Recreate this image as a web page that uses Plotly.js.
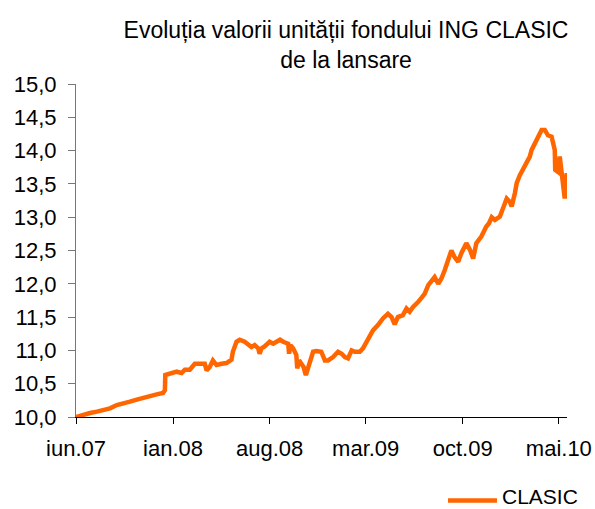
<!DOCTYPE html>
<html>
<head>
<meta charset="utf-8">
<script src="https://cdn.plot.ly/plotly-3.0.1.min.js"></script>
<style>html,body{margin:0;padding:0;background:#fff;}</style>
</head>
<body>
<div id="chart" style="width:595px;height:509px;"></div>
<script>
const dates = [
  "2007-06-01","2007-06-17","2007-07-02","2007-07-17","2007-07-31","2007-08-15","2007-08-30",
  "2007-09-13","2007-09-28","2007-10-13","2007-10-27","2007-11-11","2007-11-26","2007-12-10",
  "2007-12-14","2007-12-15","2007-12-25","2008-01-09","2008-01-20","2008-01-27","2008-02-07",
  "2008-02-18","2008-02-29","2008-03-11","2008-03-15","2008-03-22","2008-03-29","2008-04-06",
  "2008-04-17","2008-04-28","2008-05-09","2008-05-12","2008-05-20","2008-05-27",
  "2008-06-07","2008-06-15","2008-06-22","2008-06-29","2008-07-07","2008-07-10","2008-07-14",
  "2008-07-21","2008-08-01","2008-08-09","2008-08-16","2008-08-24","2008-08-31","2008-09-07",
  "2008-09-11","2008-09-13","2008-09-16","2008-09-22","2008-09-29","2008-10-01","2008-10-05",
  "2008-10-10","2008-10-15","2008-10-20","2008-10-25","2008-11-01","2008-11-05","2008-11-12",
  "2008-11-23","2008-12-01","2008-12-08","2008-12-19","2008-12-30","2009-01-07","2009-01-14",
  "2009-01-21","2009-01-29","2009-02-05","2009-02-16","2009-02-23","2009-03-03","2009-03-10",
  "2009-03-17","2009-03-28","2009-04-08","2009-04-19","2009-04-27","2009-05-04","2009-05-11",
  "2009-05-22","2009-05-30","2009-06-06","2009-06-13","2009-06-25","2009-07-02","2009-07-09",
  "2009-07-17","2009-07-24","2009-07-31","2009-08-08","2009-08-15","2009-08-22","2009-08-28",
  "2009-09-06","2009-09-13","2009-09-21","2009-09-28","2009-10-09","2009-10-17","2009-10-24",
  "2009-10-31","2009-11-11","2009-11-22","2009-11-28","2009-12-04","2009-12-11",
  "2009-12-22","2009-12-29","2010-01-06","2010-01-13","2010-01-17","2010-01-24","2010-01-28",
  "2010-02-04","2010-02-11","2010-02-19","2010-02-26","2010-03-02","2010-03-09","2010-03-16",
  "2010-03-20","2010-03-24","2010-03-31","2010-04-07","2010-04-15","2010-04-18","2010-04-22",
  "2010-04-23","2010-04-29","2010-05-03","2010-05-07","2010-05-10","2010-05-14","2010-05-18",
  "2010-05-21"
];
const clasic = [
  10.00,10.04,10.06,10.08,10.10,10.13,10.18,
  10.20,10.23,10.26,10.29,10.31,10.34,10.36,
  10.40,10.63,10.65,10.68,10.66,10.71,10.71,
  10.80,10.80,10.80,10.70,10.75,10.85,10.78,
  10.80,10.81,10.86,10.98,11.13,11.16,
  11.13,11.08,11.05,11.08,11.03,10.95,11.03,
  11.06,11.13,11.10,11.13,11.16,11.13,11.10,
  11.10,10.95,11.08,11.03,10.93,10.73,10.85,
  10.80,10.75,10.63,10.73,10.85,10.98,10.99,
  10.98,10.85,10.85,10.90,10.98,10.95,10.90,
  10.88,11.00,10.98,10.98,11.03,11.13,11.20,
  11.30,11.38,11.48,11.55,11.50,11.39,11.50,
  11.53,11.63,11.58,11.65,11.73,11.80,11.85,
  11.98,12.05,12.10,12.00,12.08,12.20,12.33,
  12.50,12.40,12.33,12.46,12.61,12.51,12.38,
  12.61,12.71,12.86,12.91,13.00,12.96,
  13.01,13.16,13.28,13.23,13.16,13.36,13.51,
  13.63,13.73,13.81,13.91,14.01,14.11,14.18,
  14.26,14.31,14.31,14.23,14.21,14.11,14.01,
  13.71,13.68,13.91,13.66,13.51,13.28,13.63,
  13.63
];
const seriesName = "CLASIC";
const tickDates = ["2007-06-01","2008-01-01","2008-08-01","2009-03-01","2009-10-01","2010-05-01"];
const tickLabels = ["iun.07","ian.08","aug.08","mar.09","oct.09","mai.10"];
const yTicks = [10,10.5,11,11.5,12,12.5,13,13.5,14,14.5,15];

const FONT = "Liberation Sans, Arial, sans-serif";
const COLOR = "#FF6600";
const trace = {
  x: dates, y: clasic, type: "scatter", mode: "lines", name: seriesName,
  line: {color: COLOR, width: 4.5}, showlegend: false
};
const layout = {
  width: 595, height: 509,
  margin: {l: 76, r: 28, t: 84, b: 92, autoexpand: false},
  paper_bgcolor: "#fff", plot_bgcolor: "#fff",
  separators: ", ",
  font: {family: FONT, size: 22, color: "#000"},
  title: {
    text: "Evoluția valorii unității fondului ING CLASIC<br>de la lansare",
    font: {family: FONT, size: 23, color: "#000"},
    x: 0.55, xanchor: "center", xref: "paper",
    y: 0.925, yanchor: "middle", yref: "container"
  },
  xaxis: {
    type: "date", range: ["2007-06-01", "2010-05-19"],
    tickmode: "array", tickvals: tickDates, ticktext: tickLabels,
    showgrid: false, zeroline: false,
    showline: true, linecolor: "#000", linewidth: 1,
    ticks: "outside", ticklen: 6, tickcolor: "#000",
    ticklabelstandoff: 6,
    tickfont: {family: FONT, size: 22}
  },
  yaxis: {
    range: [10, 15], tickmode: "array", tickvals: yTicks,
    tickformat: ".1f",
    showgrid: false, zeroline: false,
    showline: true, linecolor: "#777", linewidth: 1,
    ticks: "outside", ticklen: 7, tickcolor: "#777",
    ticklabelstandoff: 7,
    tickfont: {family: FONT, size: 22}
  },
  showlegend: false,
  shapes: [{
    type: "line", xref: "paper", yref: "paper",
    x0: 0.7576, x1: 0.8574, y0: -0.2504, y1: -0.2504,
    line: {color: COLOR, width: 4.5}
  }],
  annotations: [{
    text: seriesName, xref: "paper", yref: "paper",
    x: 0.8656, y: -0.2384, xanchor: "left", yanchor: "middle",
    borderpad: 0,
    showarrow: false, font: {family: FONT, size: 21, color: "#000"}
  }]
};
Plotly.newPlot("chart", [trace], layout, {displayModeBar: false, staticPlot: true});
</script>
</body>
</html>
